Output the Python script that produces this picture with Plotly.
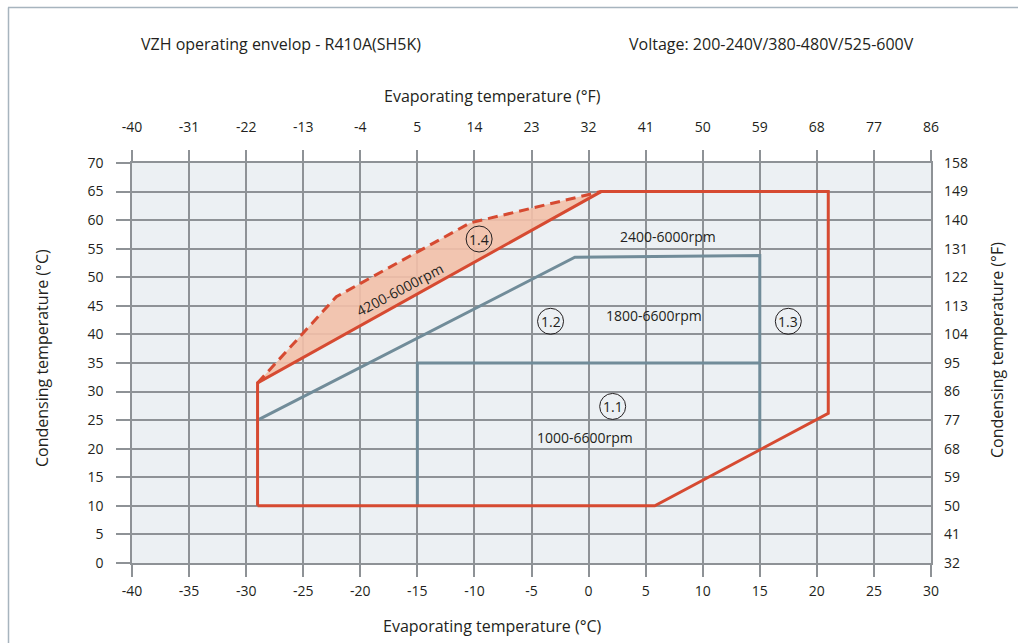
import plotly.graph_objects as go

# ---- data (°C) ----
red_x = [-29, -29, 1.1, 21, 21, 5.8, -29]
red_y = [10, 31.5, 65, 65, 26.2, 10, 10]

dash_x = [-29, -22.1, -10.4, 1.1]
dash_y = [31.5, 46.6, 59.5, 65]

blue12_x = [-29, -1.2, 15, 15]
blue12_y = [25, 53.5, 53.8, 19.7]

blue11_x = [-15, -15, 15]
blue11_y = [10, 35, 35]

rpm_labels = ["2400-6000rpm", "1800-6600rpm", "1000-6600rpm"]
rpm_x = [6.96, 5.73, -0.27]
rpm_y = [57.1, 43.3, 22.05]

zone_labels = ["1.1", "1.2", "1.3", "1.4"]
zone_x = [2.11, -3.33, 17.5, -9.59]
zone_y = [27.4, 42.3, 42.3, 56.7]

x_ticks_c = list(range(-40, 31, 5))
y_ticks_c = list(range(0, 71, 5))
x_ticks_f = list(range(-40, 87, 9))
y_ticks_f = list(range(32, 159, 9))

RED = "#d64a31"
BLUE = "#718c99"
FILL = "rgba(243,192,168,0.9)"
GRID = "#8e9296"
TXT = "#231f20"
FONT = "Open Sans"

fig = go.Figure()

# 1.4 fill
fig.add_trace(go.Scatter(x=dash_x, y=dash_y, fill="toself", fillcolor=FILL,
                         mode="none", hoverinfo="skip", showlegend=False))
# dashed boundary
fig.add_trace(go.Scatter(x=dash_x, y=dash_y, mode="lines",
                         line=dict(color=RED, width=3, dash="10px,6px"),
                         hoverinfo="skip", showlegend=False))
# blue envelopes
fig.add_trace(go.Scatter(x=blue12_x, y=blue12_y, mode="lines",
                         line=dict(color=BLUE, width=3), showlegend=False))
fig.add_trace(go.Scatter(x=blue11_x, y=blue11_y, mode="lines",
                         line=dict(color=BLUE, width=3), showlegend=False))
# red envelope
fig.add_trace(go.Scatter(x=red_x, y=red_y, mode="lines",
                         line=dict(color=RED, width=3), showlegend=False))
# dummy trace for °F axes
fig.add_trace(go.Scatter(x=[x_ticks_f[0], x_ticks_f[-1]], y=[y_ticks_f[0], y_ticks_f[-1]],
                         xaxis="x2", yaxis="y2", mode="lines",
                         line=dict(color="rgba(0,0,0,0)"), hoverinfo="skip",
                         showlegend=False))

tickfont = dict(family=FONT, size=14, color=TXT)

def labels(vals):
    return [str(v) for v in vals]

fig.update_layout(
    width=1018, height=643,
    margin=dict(l=132, r=87, t=163, b=80),
    paper_bgcolor="white",
    plot_bgcolor="#ecf0f3",
    xaxis=dict(range=[-40, 30], tickvals=x_ticks_c, ticktext=labels(x_ticks_c),
               showgrid=True, gridcolor=GRID, gridwidth=1.5, zeroline=False,
               ticks="outside", ticklen=12, tickcolor=GRID, tickwidth=1.5,
               tickfont=tickfont, showline=True, mirror=True,
               linecolor=GRID, linewidth=1.5, fixedrange=True,
               ticklabelstandoff=2),
    yaxis=dict(range=[0, 70], tickvals=y_ticks_c, ticktext=labels(y_ticks_c),
               showgrid=True, gridcolor=GRID, gridwidth=1.5, zeroline=False,
               ticks="outside", ticklen=14, tickcolor=GRID, tickwidth=1.5,
               tickfont=tickfont, showline=True, mirror=True,
               linecolor=GRID, linewidth=1.5, fixedrange=True,
               ticklabelstandoff=10),
    xaxis2=dict(range=[-40, 86], tickvals=x_ticks_f, ticktext=labels(x_ticks_f),
                overlaying="x", side="top", anchor="y", showgrid=False,
                zeroline=False, ticks="outside", ticklen=12, tickcolor=GRID,
                tickwidth=1.5, tickfont=tickfont, fixedrange=True,
                ticklabelstandoff=12),
    yaxis2=dict(range=[32, 158], tickvals=y_ticks_f, ticktext=labels(y_ticks_f),
                overlaying="y", side="right", anchor="x", showgrid=False,
                zeroline=False, ticks="", tickfont=tickfont, fixedrange=True,
                ticklabelstandoff=12),
)

annotations = []
for t, x, y in zip(rpm_labels, rpm_x, rpm_y):
    annotations.append(dict(x=x, y=y, xref="x", yref="y", text=t, showarrow=False,
                            xanchor="center", yanchor="middle",
                            font=dict(family=FONT, size=14, color=TXT)))
annotations.append(dict(x=-16.54, y=47.8, xref="x", yref="y", text="4200-6000rpm",
                        textangle=-28, showarrow=False,
                        xanchor="center", yanchor="middle",
                        font=dict(family=FONT, size=14, color=TXT)))
for t, x, y in zip(zone_labels, zone_x, zone_y):
    annotations.append(dict(x=x, y=y, xref="x", yref="y", text=t, showarrow=False,
                            xanchor="center", yanchor="middle",
                            font=dict(family=FONT, size=14, color=TXT)))

def px_x(p):
    return (p - 132) / 799.0

def px_y(p):
    return (563 - p) / 400.0

title_font = dict(family=FONT, size=16, color=TXT)
titles = [
    ("VZH operating envelop - R410A(SH5K)", 281, 44, 0),
    ("Voltage: 200-240V/380-480V/525-600V", 771, 44, 0),
    ("Evaporating temperature (°F)", 492, 96, 0),
    ("Evaporating temperature (°C)", 492, 626, 0),
    ("Condensing temperature (°C)", 42, 358, -90),
    ("Condensing temperature (°F)", 997, 350, -90),
]
for t, x, y, ang in titles:
    annotations.append(dict(x=px_x(x), y=px_y(y), xref="paper", yref="paper",
                            text=t, textangle=ang, showarrow=False,
                            xanchor="center", yanchor="middle", font=title_font))
fig.update_layout(annotations=annotations)

shapes = []
for x, y in zip(zone_x, zone_y):
    shapes.append(dict(type="circle", xref="x", yref="y",
                       xsizemode="pixel", ysizemode="pixel",
                       xanchor=x, yanchor=y, x0=-13, x1=13, y0=-13, y1=13,
                       line=dict(color=TXT, width=1)))
# outer frame (partially visible)
shapes.append(dict(type="line", xref="paper", yref="paper",
                   x0=px_x(8), x1=px_x(1030), y0=px_y(7.5), y1=px_y(7.5),
                   line=dict(color="#a7b4be", width=1.5)))
shapes.append(dict(type="line", xref="paper", yref="paper",
                   x0=px_x(8.5), x1=px_x(8.5), y0=px_y(7.5), y1=px_y(660),
                   line=dict(color="#a7b4be", width=1.5)))
fig.update_layout(shapes=shapes)

fig.write_html("out.html", config={"displayModeBar": False},
               post_script=("document.body.style.margin='0px';"
                            "document.body.style.overflow='hidden';"
                            "document.documentElement.style.overflow='hidden';"))
